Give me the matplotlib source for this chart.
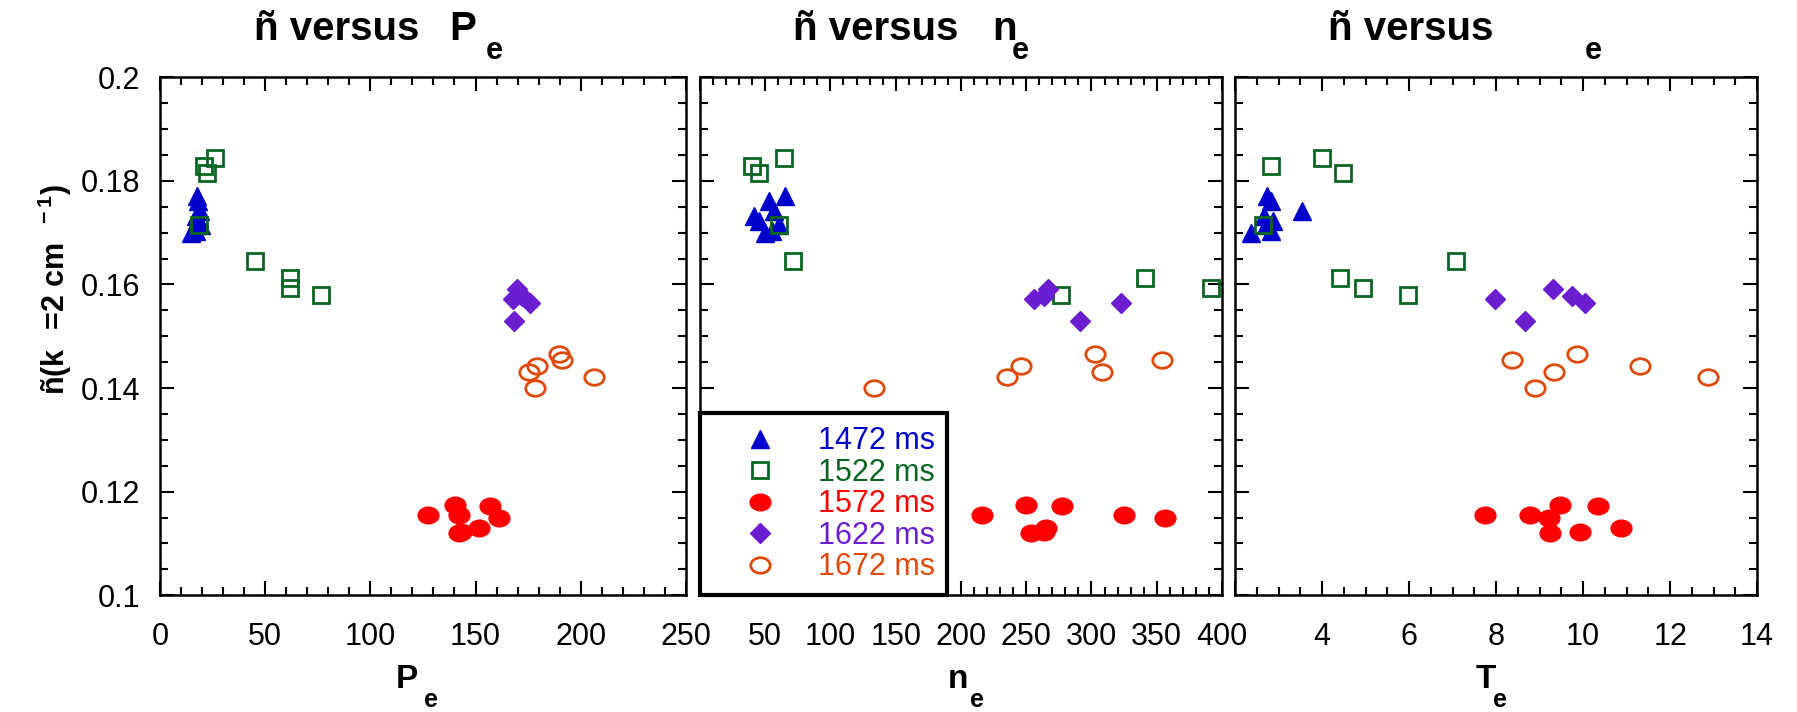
import matplotlib
matplotlib.use('Agg')
import matplotlib.pyplot as plt
from matplotlib.path import Path
from matplotlib.transforms import Affine2D
from matplotlib.ticker import MultipleLocator, FuncFormatter

plt.rcParams['font.family'] = ['Liberation Sans', 'DejaVu Sans']
plt.rcParams['mathtext.default'] = 'regular'

# ---- data (y = ñ, x = Pe / ne / Te) ----
labels = ['1472 ms', '1522 ms', '1572 ms', '1622 ms', '1672 ms']

nt_1472 = [0.1770, 0.1762, 0.1741, 0.1733, 0.1723, 0.1714, 0.1704, 0.1700]
pe_1472 = [17.7, 18.2, 19.1, 17.0, 17.5, 19.5, 17.3, 14.7]
ne_1472 = [65.4, 52.8, 56.4, 41.2, 45.4, 60.5, 55.0, 49.5]
te_1472 = [2.74, 2.82, 3.53, 2.66, 2.87, 2.70, 2.83, 2.36]

nt_1522 = [0.1845, 0.1828, 0.1815, 0.1714, 0.1645, 0.1612, 0.1593, 0.1580]
pe_1522 = [26.2, 20.9, 22.3, 18.8, 45.3, 61.6, 61.6, 76.6]
ne_1522 = [64.6, 39.9, 45.4, 60.5, 71.5, 341.4, 391.7, 276.3]
te_1522 = [3.99, 2.83, 4.48, 2.64, 7.08, 4.42, 4.94, 5.97]

nt_1572 = [0.1155, 0.1155, 0.1174, 0.1149, 0.1121, 0.1122, 0.1173, 0.1129]
pe_1572 = [127.5, 142.0, 140.3, 161.2, 142.0, 143.0, 157.1, 151.8]
ne_1572 = [216.4, 325.2, 250.2, 356.0, 253.5, 263.9, 277.7, 265.0]
te_1572 = [7.75, 8.77, 9.48, 9.21, 9.25, 9.93, 10.35, 10.88]

nt_1622 = [0.1591, 0.1577, 0.1572, 0.1565, 0.1530]
pe_1622 = [169.5, 172.1, 167.7, 175.7, 168.2]
ne_1622 = [266.7, 263.4, 255.7, 323.0, 291.4]
te_1622 = [9.30, 9.74, 7.98, 10.04, 8.66]

nt_1672 = [0.1466, 0.1455, 0.1442, 0.1431, 0.1422, 0.1400]
pe_1672 = [189.8, 191.2, 179.2, 175.3, 206.1, 178.3]
ne_1672 = [302.4, 354.1, 246.0, 307.9, 235.0, 133.0]
te_1672 = [9.87, 8.36, 11.30, 9.32, 12.87, 8.89]

colors = ['#0000CC', '#0B6623', '#FF0000', '#6A1ECF', '#DD4A0C']

# slightly flattened circle, like the original markers
ellipse = Path.unit_circle().transformed(Affine2D().scale(1.0, 0.8))
styles = [
    dict(marker='^', ms=13, mfc=colors[0], mec=colors[0], mew=1),
    dict(marker='s', ms=11, mfc='none', mec=colors[1], mew=2),
    dict(marker=ellipse, ms=15, mfc=colors[2], mec=colors[2], mew=1),
    dict(marker='D', ms=10, mfc=colors[3], mec=colors[3], mew=1),
    dict(marker=ellipse, ms=14, mfc='none', mec=colors[4], mew=2),
]

nt_all = [nt_1472, nt_1522, nt_1572, nt_1622, nt_1672]
pe_all = [pe_1472, pe_1522, pe_1572, pe_1622, pe_1672]
ne_all = [ne_1472, ne_1522, ne_1572, ne_1622, ne_1672]
te_all = [te_1472, te_1522, te_1572, te_1622, te_1672]

fig = plt.figure(figsize=(17.97, 7.12), dpi=100)
ax1 = fig.add_axes([0.089, 0.164, 0.2927, 0.7275])
ax2 = fig.add_axes([0.3895, 0.164, 0.2905, 0.7275])
ax3 = fig.add_axes([0.6873, 0.164, 0.2905, 0.7275])

panels = [
    (ax1, pe_all, (0, 250), 50, 10, None),
    (ax2, ne_all, (0, 400), 50, 10, 0),
    (ax3, te_all, (2, 14), 2, 0.5, 2),
]

for ax, xs_all, xlim, major, minor, hidden in panels:
    for xs, ys, st in zip(xs_all, nt_all, styles):
        ax.plot(xs, ys, linestyle='none', **st)
    ax.set_xlim(*xlim)
    ax.set_ylim(0.1, 0.2)
    ax.xaxis.set_major_locator(MultipleLocator(major))
    ax.xaxis.set_minor_locator(MultipleLocator(minor))
    ax.yaxis.set_major_locator(MultipleLocator(0.02))
    ax.yaxis.set_minor_locator(MultipleLocator(0.005))
    ax.xaxis.set_major_formatter(FuncFormatter(
        lambda v, p, h=hidden: '' if h is not None and abs(v - h) < 1e-9 else '%g' % v))
    ax.tick_params(which='both', direction='in', top=True, right=True,
                   width=1.5, labelsize=22)
    ax.tick_params(which='major', length=10)
    ax.tick_params(which='minor', length=6)
    ax.tick_params(axis='x', pad=19)
    ax.tick_params(axis='y', pad=14)
    for sp in ax.spines.values():
        sp.set_linewidth(1.8)
    if ax is not ax1:
        ax.tick_params(axis='y', labelleft=False)

ax1.yaxis.set_major_formatter(FuncFormatter(lambda v, p: '%g' % round(v, 3)))

# titles: "ñ versus", the variable, and its subscript "e" set lower
for ax, var, var_x, sub_x in [(ax1, 'P', 0.551, 0.619), (ax2, 'n', 0.56, 0.597),
                              (ax3, '', 0.0, 0.67)]:
    ax.text(0.178, 1.071, 'ñ versus', transform=ax.transAxes, fontsize=29,
            fontweight='bold', va='baseline')
    if var:
        ax.text(var_x, 1.071, var, transform=ax.transAxes, fontsize=29,
                fontweight='bold', va='baseline')
    ax.text(sub_x, 1.036, 'e', transform=ax.transAxes, fontsize=22,
            fontweight='bold', va='baseline')

# x labels
for ax, main, mx, sx in [(ax1, 'P', 0.47, 0.515), (ax2, 'n', 0.495, 0.53),
                         (ax3, 'T', 0.48, 0.507)]:
    ax.text(mx, -0.18, main, transform=ax.transAxes, fontsize=24,
            fontweight='bold', ha='center', va='baseline')
    ax.text(sx, -0.215, 'e', transform=ax.transAxes, fontsize=18,
            fontweight='bold', ha='center', va='baseline')

ax1.text(-0.2, 0.59, 'ñ(k$\\ \\ $=2 cm$^{\\ \\ -1}$)', transform=ax1.transAxes,
         rotation=90, fontsize=22, fontweight='bold', ha='center', va='center')

leg = ax2.legend(labels, loc='lower left', bbox_to_anchor=(0, 0), borderaxespad=0,
                 fontsize=22, frameon=True, fancybox=False, framealpha=1,
                 edgecolor='black', handlelength=3.1, handletextpad=0.33,
                 borderpad=0.42, labelspacing=0.05, numpoints=1)
leg.get_frame().set_linewidth(3)
for txt, c in zip(leg.get_texts(), colors):
    txt.set_color(c)

plt.savefig('out.png', dpi=100)
